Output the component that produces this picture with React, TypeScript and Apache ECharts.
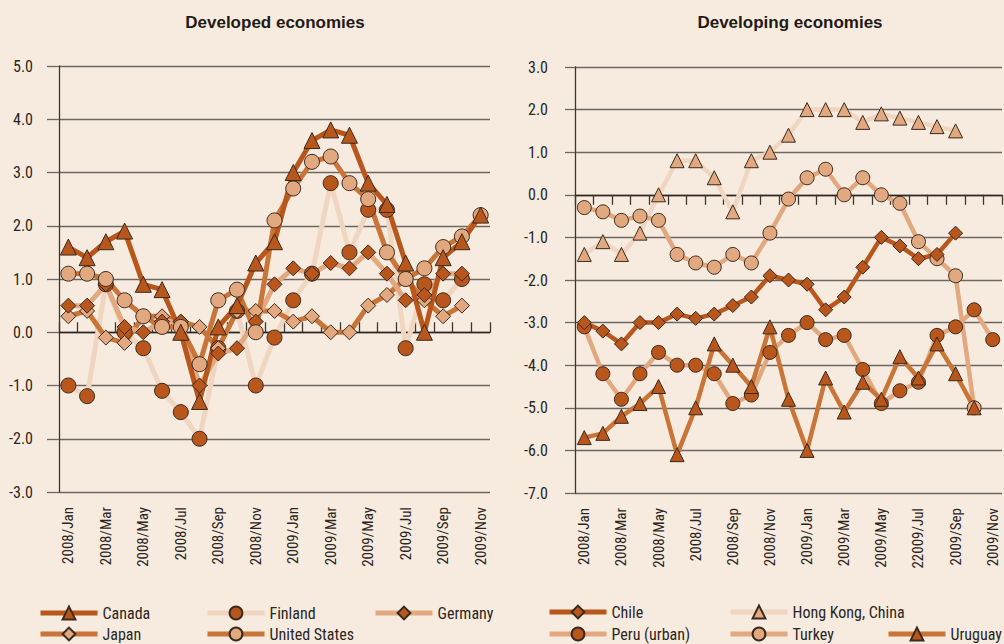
import { useEffect, useRef } from 'react';
import * as echarts from 'echarts';

const monthsLeft = ['2008/Jan','2008/Feb','2008/Mar','2008/Apr','2008/May','2008/Jun','2008/Jul','2008/Aug','2008/Sep','2008/Oct','2008/Nov','2008/Dec','2009/Jan','2009/Feb','2009/Mar','2009/Apr','2009/May','2009/Jun','2009/Jul','2009/Aug','2009/Sep','2009/Oct','2009/Nov'];
const monthsRight = ['2008/Jan','2008/Feb','2008/Mar','2008/Apr','2008/May','2008/Jun','2008/Jul','2008/Aug','2008/Sep','2008/Oct','2008/Nov','2008/Dec','2009/Jan','2009/Feb','2009/Mar','2009/Apr','2009/May','2009/Jun','22009/Jul','2009/Aug','2009/Sep','2009/Oct','2009/Nov'];

const canada = [1.6,1.4,1.7,1.9,0.9,0.8,0.0,-1.3,0.1,0.5,1.3,1.7,3.0,3.6,3.8,3.7,2.8,2.4,1.3,0.0,1.4,1.7,2.2];
const finland = [-1.0,-1.2,0.9,0.0,-0.3,-1.1,-1.5,-2.0,-0.3,0.4,-1.0,-0.1,0.6,1.1,2.8,1.5,2.3,2.3,-0.3,0.9,0.6,1.0,null];
const germany = [0.5,0.5,0.9,0.1,0.0,0.2,0.2,-1.0,-0.4,-0.3,0.2,0.9,1.2,1.1,1.3,1.2,1.5,1.1,0.6,0.7,1.1,1.1,null];
const japan = [0.3,0.4,-0.1,-0.2,0.3,0.3,0.2,0.1,-0.3,0.4,0.4,0.4,0.2,0.3,0.0,0.0,0.5,0.7,1.0,0.6,0.3,0.5,null];
const unitedStates = [1.1,1.1,1.0,0.6,0.3,0.1,0.1,-0.6,0.6,0.8,0.0,2.1,2.7,3.2,3.3,2.8,2.5,1.5,1.0,1.2,1.6,1.8,2.2];

const chile = [-3.0,-3.2,-3.5,-3.0,-3.0,-2.8,-2.9,-2.8,-2.6,-2.4,-1.9,-2.0,-2.1,-2.7,-2.4,-1.7,-1.0,-1.2,-1.5,-1.4,-0.9,null,null];
const hongKong = [-1.4,-1.1,-1.4,-0.9,0.0,0.8,0.8,0.4,-0.4,0.8,1.0,1.4,2.0,2.0,2.0,1.7,1.9,1.8,1.7,1.6,1.5,null,null];
const peru = [-3.1,-4.2,-4.8,-4.2,-3.7,-4.0,-4.0,-4.2,-4.9,-4.7,-3.7,-3.3,-3.0,-3.4,-3.3,-4.1,-4.9,-4.6,-4.4,-3.3,-3.1,-2.7,-3.4];
const turkey = [-0.3,-0.4,-0.6,-0.5,-0.6,-1.4,-1.6,-1.7,-1.4,-1.6,-0.9,-0.1,0.4,0.6,0.0,0.4,0.0,-0.2,-1.1,-1.5,-1.9,-5.0,null];
const uruguay = [-5.7,-5.6,-5.2,-4.9,-4.5,-6.1,-5.0,-3.5,-4.0,-4.5,-3.1,-4.8,-6.0,-4.3,-5.1,-4.4,-4.8,-3.8,-4.3,-3.5,-4.2,-5.0,null];

const DARK = '#B8561C';
const MED = '#C97537';
const LIGHT = '#E2A880';
const PALE = '#F0D6C1';
const BG = '#F7EBDF';
const EDGE = '#3a2a1e';
const FONT = "'Roboto Condensed', 'Noto Sans Condensed', 'Liberation Sans Narrow', 'DejaVu Sans Condensed', Roboto, sans-serif";

function mk(name: string, data: (number | null)[], grid: number, lineColor: string, symbol: string, symColor: string, size: number, width: number) {
  return {
    name,
    type: 'line',
    xAxisIndex: grid * 2,
    yAxisIndex: grid,
    data,
    symbol,
    symbolSize: size,
    showSymbol: true,
    showAllSymbol: true,
    connectNulls: false,
    lineStyle: { color: lineColor, width },
    itemStyle: { color: symColor, borderColor: EDGE, borderWidth: 1 },
    emphasis: { disabled: true },
  };
}

function legendItem(name: string, x: number, y: number) {
  return {
    data: [name],
    left: x,
    top: y - 8,
    padding: 0,
    itemWidth: 57,
    itemHeight: 16,
    selectedMode: false,
    lineStyle: { width: 5 },
    textStyle: { fontSize: 16, color: '#2b2622', fontFamily: FONT },
  };
}

function yAxis(grid: number, min: number, max: number, tickLen: number, margin: number) {
  return {
    type: 'value',
    gridIndex: grid,
    min,
    max,
    interval: 1,
    axisLine: { show: true, lineStyle: { color: '#3b3631', width: 1.3 } },
    axisTick: { show: true, length: tickLen, lineStyle: { color: '#6e6761', width: 1.3 } },
    splitLine: { show: true, lineStyle: { color: '#6e6761', width: 1.3 } },
    axisLabel: { formatter: (v: number) => v.toFixed(1), margin, fontSize: 16, color: '#2b2622', fontFamily: FONT },
  };
}

function xAxes(grid: number, cats: string[], inside: boolean) {
  return [
    {
      type: 'category', gridIndex: grid, data: cats, position: 'bottom', boundaryGap: true,
      axisLine: { show: true, onZero: true, lineStyle: { color: '#2b2622', width: 1.3 } },
      axisTick: { show: true, inside, length: 10, interval: 0, lineStyle: { color: '#3b3631', width: 1.3 } },
      axisLabel: { show: false },
      splitLine: { show: false },
    },
    {
      type: 'category', gridIndex: grid, data: cats, position: 'bottom', boundaryGap: true,
      axisLine: { show: false, onZero: false },
      axisTick: { show: false },
      axisLabel: { show: true, interval: 1, rotate: 90, margin: 15, fontSize: 15, color: '#2b2622', fontFamily: FONT },
      splitLine: { show: false },
    },
  ];
}

export default function App() {
  const ref = useRef<HTMLDivElement>(null);
  useEffect(() => {
    if (!ref.current) return;
    const chart = echarts.init(ref.current, undefined, { renderer: 'svg' });
    chart.setOption({
      animation: false,
      backgroundColor: BG,
      grid: [
        { left: 59, right: 514, top: 66, bottom: 152 },
        { left: 575, right: 2, top: 67, bottom: 151 },
      ],
      xAxis: [...xAxes(0, monthsLeft, true), ...xAxes(1, monthsRight, false)],
      yAxis: [yAxis(0, -3, 5, 12, 26), yAxis(1, -7, 3, 10, 27)],
      legend: [
        legendItem('Canada', 38, 613),
        legendItem('Finland', 205, 613),
        legendItem('Germany', 373, 613),
        legendItem('Japan', 38, 634),
        legendItem('United States', 205, 634),
        legendItem('Chile', 547, 612),
        legendItem('Hong Kong, China', 728, 612),
        legendItem('Peru (urban)', 547, 634),
        legendItem('Turkey', 728, 634),
        legendItem('Uruguay', 886, 634),
      ],
      graphic: [
        { type: 'text', x: 275, y: 22, style: { text: 'Developed economies', textAlign: 'center', textVerticalAlign: 'middle', align: 'center', verticalAlign: 'middle', font: "bold 17px 'Liberation Sans', Arial, sans-serif", fill: '#1f1a16' } },
        { type: 'text', x: 790, y: 22, style: { text: 'Developing economies', textAlign: 'center', textVerticalAlign: 'middle', align: 'center', verticalAlign: 'middle', font: "bold 17px 'Liberation Sans', Arial, sans-serif", fill: '#1f1a16' } },
      ],
      series: [
        mk('Finland', finland, 0, PALE, 'circle', DARK, 15, 5),
        mk('Japan', japan, 0, MED, 'diamond', LIGHT, 15, 5),
        mk('Germany', germany, 0, LIGHT, 'diamond', DARK, 15, 5),
        mk('United States', unitedStates, 0, MED, 'circle', LIGHT, 15, 5),
        mk('Canada', canada, 0, DARK, 'triangle', DARK, 16, 5),
        mk('Hong Kong, China', hongKong, 1, PALE, 'triangle', LIGHT, 14, 4.5),
        mk('Turkey', turkey, 1, LIGHT, 'circle', LIGHT, 14, 4.5),
        mk('Peru (urban)', peru, 1, LIGHT, 'circle', DARK, 14, 4.5),
        mk('Uruguay', uruguay, 1, MED, 'triangle', DARK, 14, 4.5),
        mk('Chile', chile, 1, DARK, 'diamond', DARK, 14, 4.5),
      ],
    });
    return () => chart.dispose();
  }, []);
  return <div ref={ref} style={{ position: 'absolute', left: 0, top: 0, width: 1004, height: 644 }} />;
}
